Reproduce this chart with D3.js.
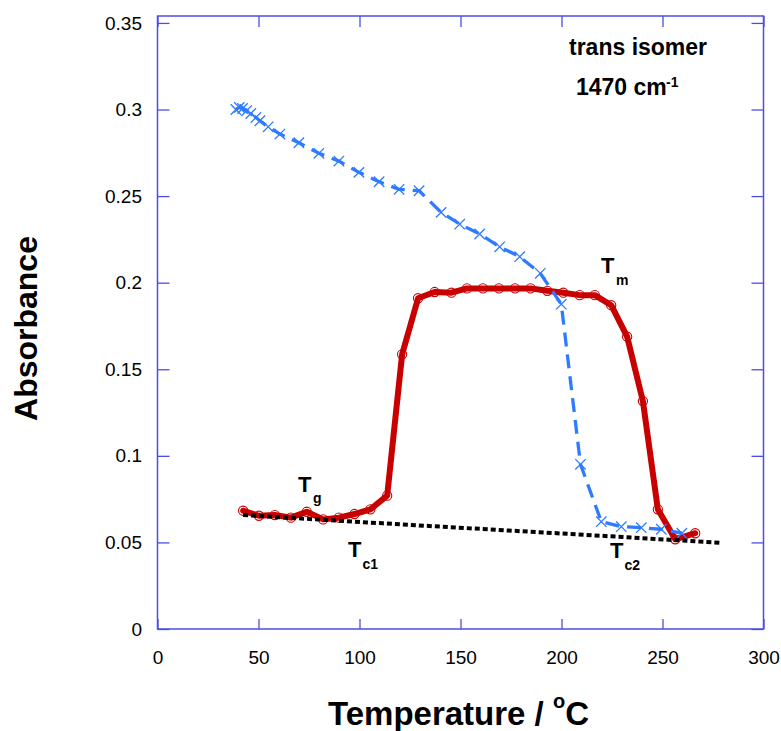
<!DOCTYPE html>
<html>
<head>
<meta charset="utf-8">
<script src="https://cdn.jsdelivr.net/npm/d3@7"></script>
<style>
  body { margin: 0; background: #fff; }
  svg { display: block; }
</style>
</head>
<body>
<svg width="781" height="731"></svg>
<script>
// temperature (°C) and absorbance
var redT = [42.4, 50.2, 58.1, 66, 73.9, 82, 89.8, 97.5, 105.4, 113.7, 121.1, 129, 137.2, 145.5, 153.2,
  161.1, 169, 177, 184.7, 193, 200.9, 209, 216.5, 224.6, 232.5, 240.3, 247.7, 256.3, 266.2];
var redA = [0.0683, 0.0654, 0.0658, 0.0643, 0.0677, 0.0633, 0.0643, 0.0664, 0.0691, 0.0770, 0.1586, 0.1910,
  0.1946, 0.1942, 0.1967, 0.1967, 0.1967, 0.1967, 0.1967, 0.1953, 0.1942, 0.1928, 0.1928, 0.1870, 0.1688,
  0.1316, 0.0691, 0.0518, 0.0553];

var blueT = [38.8, 40.5, 42.1, 44.1, 46.2, 48.7, 50.7, 54.8, 60.6, 70, 79.9, 89.8, 99.7, 109.7, 119.6,
  129.5, 140.4, 149.6, 159.5, 169.4, 179.3, 189.5, 199.9, 209.4, 219.7, 229.6, 239.5, 249.4, 259.6];
var blueA = [0.3000, 0.3012, 0.3006, 0.2993, 0.2977, 0.2954, 0.2935, 0.2900, 0.2858, 0.2808, 0.2747, 0.2702,
  0.2637, 0.2583, 0.2539, 0.2531, 0.2406, 0.2338, 0.2281, 0.2207, 0.2150, 0.2054, 0.1876, 0.0951, 0.0620,
  0.0591, 0.0585, 0.0576, 0.0553];

var baseT = [42.4, 111.7, 218.8, 278.5];
var baseA = [0.0658, 0.0610, 0.0539, 0.0498];

var xTicks = [0, 50, 100, 150, 200, 250, 300];
var yTicks = [0, 0.05, 0.1, 0.15, 0.2, 0.25, 0.3, 0.35];
var yLabels = ["0", "0.05", "0.1", "0.15", "0.2", "0.25", "0.3", "0.35"];

var frameCol = "#4d4de6", redCol = "#c80000", blueCol = "#2f7bff";
var font = "Liberation Sans, Arial, sans-serif";

var svg = d3.select("svg");
var x = d3.scaleLinear().domain([0, 300]).range([157.5, 763.5]);
var y = d3.scaleLinear().domain([0, 0.354]).range([629, 16]);

function zip(a, b) { return a.map(function (v, i) { return [v, b[i]]; }); }
var red = zip(redT, redA), blue = zip(blueT, blueA), base = zip(baseT, baseA);

// axes, ticks pointing inward
function styleAxis(g) {
  g.select(".domain").remove();
  g.selectAll(".tick line").attr("stroke", frameCol).attr("stroke-width", 1.3);
  g.selectAll("text").attr("fill", "#000");
  g.attr("font-family", font).attr("font-size", 19);
}
svg.append("g").attr("transform", "translate(0," + y(0) + ")")
  .call(d3.axisBottom(x).tickValues(xTicks).tickSizeInner(-10).tickSizeOuter(0).tickPadding(22))
  .call(styleAxis);
svg.append("g").attr("transform", "translate(0," + y.range()[1] + ")")
  .call(d3.axisTop(x).tickValues(xTicks).tickSizeInner(-11).tickSizeOuter(0).tickFormat(""))
  .call(styleAxis);
svg.append("g").attr("transform", "translate(" + x(0) + ",0)")
  .call(d3.axisLeft(y).tickValues(yTicks).tickSizeInner(-12).tickSizeOuter(0).tickPadding(15.5)
    .tickFormat(function (d, i) { return yLabels[i]; }))
  .call(styleAxis);
svg.append("g").attr("transform", "translate(" + x(300) + ",0)")
  .call(d3.axisRight(y).tickValues(yTicks).tickSizeInner(-12).tickSizeOuter(0).tickFormat(""))
  .call(styleAxis);

svg.append("rect")
  .attr("x", x(0)).attr("y", y.range()[1])
  .attr("width", x(300) - x(0)).attr("height", y(0) - y.range()[1])
  .attr("fill", "none").attr("stroke", frameCol).attr("stroke-width", 1.5);

var line = d3.line().x(function (d) { return x(d[0]); }).y(function (d) { return y(d[1]); });

// red: thick line + open circles
svg.append("path").attr("d", line(red))
  .attr("fill", "none").attr("stroke", redCol).attr("stroke-width", 6)
  .attr("stroke-linejoin", "round").attr("stroke-linecap", "round");
svg.selectAll("circle.red").data(red).enter().append("circle")
  .attr("cx", function (d) { return x(d[0]); }).attr("cy", function (d) { return y(d[1]); })
  .attr("r", 4.6).attr("fill", "none").attr("stroke", redCol).attr("stroke-width", 1.1);

// blue: dashed line + x marks
svg.append("path").attr("d", line(blue))
  .attr("fill", "none").attr("stroke", blueCol).attr("stroke-width", 3.3)
  .attr("stroke-dasharray", "14,8");
svg.selectAll("path.xmark").data(blue).enter().append("path")
  .attr("d", function (d) {
    var px = x(d[0]), py = y(d[1]), s = 5.2;
    return "M" + (px - s) + "," + (py - s) + "L" + (px + s) + "," + (py + s) +
      "M" + (px + s) + "," + (py - s) + "L" + (px - s) + "," + (py + s);
  })
  .attr("fill", "none").attr("stroke", blueCol).attr("stroke-width", 1.3);

// black dotted baseline
svg.append("path").attr("d", line(base))
  .attr("fill", "none").attr("stroke", "#000").attr("stroke-width", 4)
  .attr("stroke-dasharray", "5,3");

// labels
function label(px, py, main, sub, size, subSize, subX, subY) {
  var t = svg.append("text").attr("font-family", font).attr("font-weight", "bold");
  t.append("tspan").attr("x", px).attr("y", py).attr("font-size", size).text(main);
  if (sub) t.append("tspan").attr("x", subX).attr("y", subY).attr("font-size", subSize).text(sub);
}
label(569, 55, "trans isomer", null, 23);
label(576, 95, "1470 cm", "-1", 23, 14, 666, 87);
label(601, 273, "T", "m", 22, 14, 616, 285);
label(298, 492, "T", "g", 22, 14, 313, 503);
label(348, 557, "T", "c1", 22, 14, 362.5, 569);
label(610, 558, "T", "c2", 22, 14, 624.5, 570);

var xt = svg.append("text").attr("font-family", font).attr("font-weight", "bold")
  .attr("font-size", 33).attr("text-anchor", "middle").attr("x", 458.5).attr("y", 725);
xt.append("tspan").text("Temperature / ");
xt.append("tspan").attr("font-size", 20).attr("dy", -17).text("o");
xt.append("tspan").attr("dy", 17).text("C");

svg.append("text").attr("font-family", font).attr("font-weight", "bold")
  .attr("font-size", 32).attr("text-anchor", "middle")
  .attr("transform", "translate(37,328.5) rotate(-90)").text("Absorbance");
</script>
</body>
</html>
